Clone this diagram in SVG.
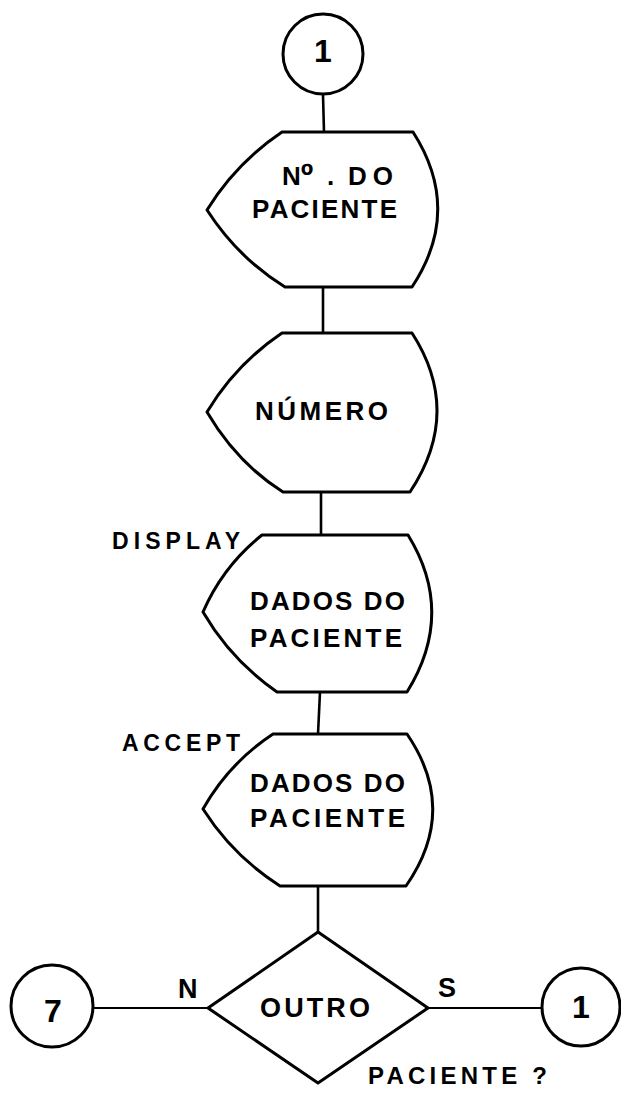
<svg xmlns="http://www.w3.org/2000/svg" width="621" height="1093" viewBox="0 0 621 1093">
  <style>
    .shape { fill: #fff; stroke: #000; stroke-width: 3; stroke-linejoin: round; }
    .conn { fill: none; stroke: #000; stroke-width: 2.6; }
    .conn-h { fill: none; stroke: #000; stroke-width: 2; }
    .t { font-family: "Liberation Sans", Arial, sans-serif; font-weight: bold; fill: #000; }
    .lbl { font-size: 26px; }
    .num { font-size: 32px; text-anchor: middle; }
  </style>

  <!-- connectors -->
  <g id="connectors">
    <line class="conn" x1="323" y1="95" x2="324" y2="132"/>
    <line class="conn" x1="323" y1="287" x2="323" y2="333"/>
    <line class="conn" x1="321" y1="492" x2="321" y2="535"/>
    <line class="conn" x1="320" y1="692" x2="318" y2="734"/>
    <line class="conn" x1="318" y1="886" x2="318" y2="932"/>
    <line class="conn-h" x1="208" y1="1008" x2="93" y2="1008"/>
    <line class="conn-h" x1="428" y1="1008" x2="543" y2="1008"/>
  </g>

  <!-- entry connector -->
  <g id="conn-top">
    <circle class="shape" cx="323" cy="54" r="40"/>
    <text class="t num" x="323" y="62">1</text>
  </g>

  <!-- display: patient number prompt -->
  <g id="display-num-paciente">
    <path class="shape" d="M282,132 L413,132 Q463,210 412,287 L285,287 Q238,258 207,210 Q236,163 282,132 Z"/>
    <text class="t lbl" x="282" y="185">N<tspan font-size="34" dy="2">º</tspan></text>
    <text class="t lbl" x="327" y="185">.</text>
    <text class="t lbl" x="348" y="185" textLength="45" lengthAdjust="spacing">DO</text>
    <text class="t lbl" x="252" y="218" textLength="145" lengthAdjust="spacing">PACIENTE</text>
  </g>

  <!-- input: number -->
  <g id="input-numero">
    <path class="shape" d="M282,333 L412,333 Q463,412 410,492 L283,492 Q237,463 207,412 Q236,364 282,333 Z"/>
    <text class="t lbl" x="255" y="420" textLength="133" lengthAdjust="spacing">NÚMERO</text>
  </g>

  <!-- display patient data -->
  <g id="display-dados">
    <text class="t" x="112" y="549" font-size="23" textLength="128" lengthAdjust="spacing">DISPLAY</text>
    <path class="shape" d="M262,535 L408,535 Q456,613 407,692 L277,692 Q231,660 203,612 Q223,566 262,535 Z"/>
    <text class="t lbl" x="250" y="610" textLength="155" lengthAdjust="spacing">DADOS DO</text>
    <text class="t lbl" x="250" y="647" textLength="152" lengthAdjust="spacing">PACIENTE</text>
  </g>

  <!-- accept patient data -->
  <g id="accept-dados">
    <text class="t" x="122" y="751" font-size="23" textLength="118" lengthAdjust="spacing">ACCEPT</text>
    <path class="shape" d="M273,734 L407,734 Q459,810 406,886 L280,886 Q233,856 203,809 Q229,763 273,734 Z"/>
    <text class="t lbl" x="250" y="792" textLength="155" lengthAdjust="spacing">DADOS DO</text>
    <text class="t lbl" x="250" y="827" textLength="155" lengthAdjust="spacing">PACIENTE</text>
  </g>

  <!-- decision: another patient? -->
  <g id="decision-outro">
    <path class="shape" d="M318,932 L428,1008 L318,1083 L208,1008 Z"/>
    <text class="t" x="260" y="1017" font-size="27" textLength="110" lengthAdjust="spacing">OUTRO</text>
    <text class="t" x="368" y="1084" font-size="24" textLength="179" lengthAdjust="spacing">PACIENTE ?</text>
    <text class="t" x="178" y="998" font-size="27">N</text>
    <text class="t" x="438" y="997" font-size="27">S</text>
  </g>

  <!-- off-page connector 7 -->
  <g id="conn-7">
    <circle class="shape" cx="52" cy="1006" r="41"/>
    <text class="t num" x="53" y="1022">7</text>
  </g>

  <!-- off-page connector 1 -->
  <g id="conn-1">
    <circle class="shape" cx="581" cy="1007" r="39"/>
    <text class="t num" x="581" y="1018">1</text>
  </g>
</svg>
